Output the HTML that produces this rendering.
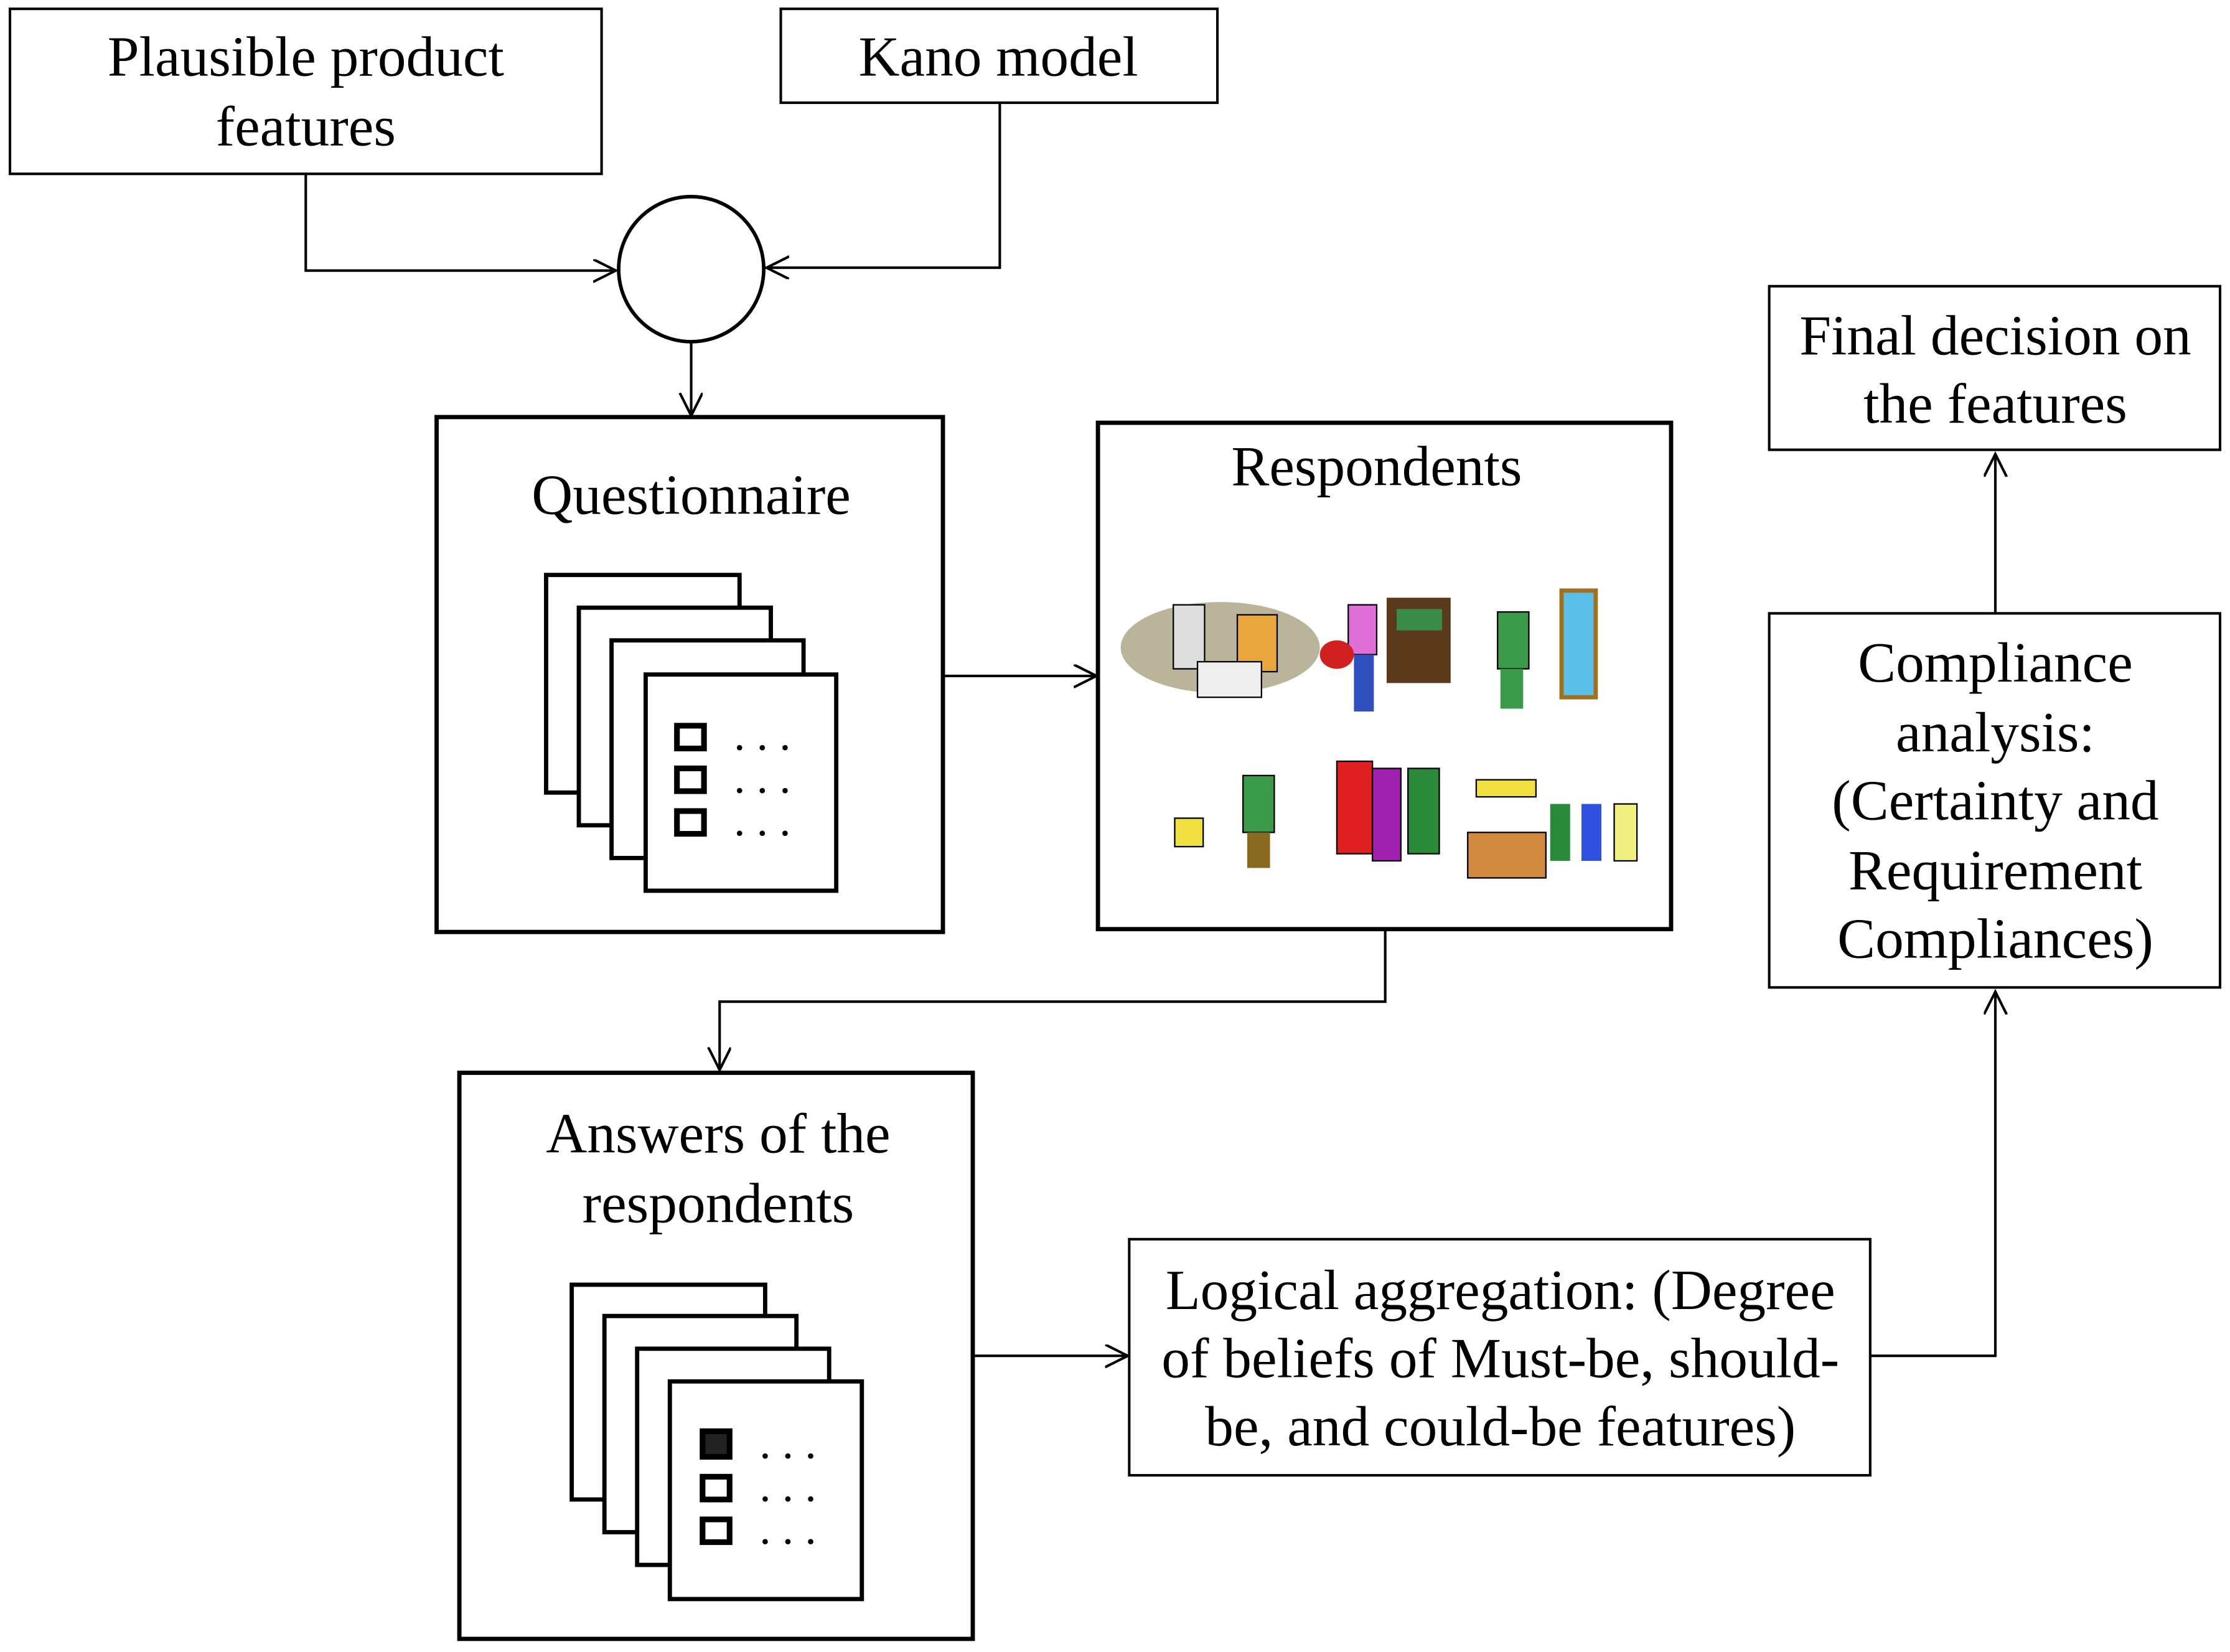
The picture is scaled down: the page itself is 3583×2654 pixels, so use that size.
<!DOCTYPE html>
<html><head><meta charset="utf-8"><style>
html,body{margin:0;padding:0;background:#fff;}
svg{display:block;}
text{font-family:"Liberation Serif",serif;font-size:40px;fill:#000;text-anchor:middle;}
</style></head><body>
<svg width="3583" height="2654" viewBox="0 0 1568 1161" xmlns="http://www.w3.org/2000/svg">
<defs>
<marker id="a" markerWidth="20" markerHeight="20" refX="16" refY="8" orient="auto" markerUnits="userSpaceOnUse">
<path d="M0,0 L16,8 L0,16" fill="none" stroke="#000" stroke-width="1.8"/>
</marker>
</defs>
<g fill="none" stroke="#000" stroke-width="1.8">
<rect x="7" y="6" width="416" height="116"/>
<rect x="549" y="6" width="307" height="66"/>
<circle cx="486" cy="189" r="51" stroke-width="2.5"/>
<polyline points="215,122 215,190 433,190" marker-end="url(#a)"/>
<polyline points="703,72 703,188 539,188" marker-end="url(#a)"/>
<line x1="486" y1="240" x2="486" y2="292" marker-end="url(#a)"/>
<rect x="307" y="293" width="356" height="362" stroke-width="3"/>
<line x1="663" y1="475" x2="771" y2="475" marker-end="url(#a)"/>
<rect x="772" y="297" width="403" height="356" stroke-width="3"/>
<polyline points="974,653 974,704 506,704 506,752" marker-end="url(#a)"/>
<rect x="323" y="754" width="361" height="398" stroke-width="3"/>
<line x1="684" y1="953" x2="793" y2="953" marker-end="url(#a)"/>
<rect x="794" y="871" width="521" height="166"/>
<polyline points="1315,953 1403,953 1403,697" marker-end="url(#a)"/>
<rect x="1244" y="431" width="317" height="263"/>
<line x1="1403" y1="431" x2="1403" y2="319" marker-end="url(#a)"/>
<rect x="1244" y="201" width="317" height="115"/>
</g>
<g fill="#fff" stroke="#000" stroke-width="3">
<rect x="384" y="404" width="136" height="153"/>
<rect x="407" y="427" width="135" height="153"/>
<rect x="430" y="450" width="135" height="153"/>
<rect x="454" y="474" width="134" height="152"/>
<rect x="476" y="510" width="19" height="16" stroke-width="4"/>
<rect x="476" y="540" width="19" height="16" stroke-width="4"/>
<rect x="476" y="570" width="19" height="16" stroke-width="4"/>
<rect x="402" y="903" width="136" height="151"/>
<rect x="425" y="925" width="135" height="152"/>
<rect x="448" y="948" width="135" height="152"/>
<rect x="471" y="971" width="135" height="153"/>
<rect x="494" y="1006" width="19" height="18" stroke-width="4" fill="#222"/>
<rect x="494" y="1038" width="19" height="16" stroke-width="4"/>
<rect x="494" y="1068" width="19" height="16" stroke-width="4"/>
</g>
<g fill="#000">
<text x="536" y="527" style="font-size:32px">. . .</text>
<text x="536" y="557" style="font-size:32px">. . .</text>
<text x="536" y="587" style="font-size:32px">. . .</text>
<text x="554" y="1025" style="font-size:32px">. . .</text>
<text x="554" y="1055" style="font-size:32px">. . .</text>
<text x="554" y="1085" style="font-size:32px">. . .</text>
</g>
<g>
<ellipse cx="858" cy="455" rx="70" ry="32" fill="#b9b49a"/>
<rect x="825" y="425" width="22" height="45" fill="#ddd" stroke="#000"/>
<rect x="870" y="432" width="28" height="40" fill="#e8a63c" stroke="#000"/>
<rect x="842" y="465" width="45" height="25" fill="#eee" stroke="#000"/>
<rect x="975" y="420" width="45" height="60" fill="#5a3a1a"/>
<rect x="982" y="428" width="32" height="15" fill="#3a8a4a"/>
<rect x="948" y="425" width="20" height="35" fill="#e070d8" stroke="#000"/>
<rect x="952" y="460" width="14" height="40" fill="#3050c0"/>
<ellipse cx="940" cy="460" rx="12" ry="10" fill="#d02020"/>
<rect x="1053" y="430" width="22" height="40" fill="#3a9a4a" stroke="#000"/>
<rect x="1055" y="470" width="16" height="28" fill="#3a9a4a"/>
<rect x="1098" y="415" width="24" height="75" fill="#5bc0e8" stroke="#a07020" stroke-width="3"/>
<rect x="826" y="575" width="20" height="20" fill="#f0e040" stroke="#000"/>
<rect x="874" y="545" width="22" height="40" fill="#3a9a4a" stroke="#000"/>
<rect x="877" y="585" width="16" height="25" fill="#8a6a20"/>
<rect x="940" y="535" width="25" height="65" fill="#e02020" stroke="#000"/>
<rect x="965" y="540" width="20" height="65" fill="#a020b0" stroke="#000"/>
<rect x="990" y="540" width="22" height="60" fill="#2a8a3a" stroke="#000"/>
<rect x="1038" y="548" width="42" height="12" fill="#f0e040" stroke="#000"/>
<rect x="1032" y="585" width="55" height="32" fill="#d08a40" stroke="#000"/>
<rect x="1090" y="565" width="14" height="40" fill="#2a8a3a"/>
<rect x="1112" y="565" width="14" height="40" fill="#3050e0"/>
<rect x="1135" y="565" width="16" height="40" fill="#f0f080" stroke="#000"/>
</g>
<text x="215" y="53">Plausible product</text>
<text x="215" y="102">features</text>
<text x="702" y="53">Kano model</text>
<text x="486" y="361">Questionnaire</text>
<text x="968" y="341">Respondents</text>
<text x="505" y="810">Answers of the</text>
<text x="505" y="859">respondents</text>
<text x="1055" y="920">Logical aggregation: (Degree</text>
<text x="1055" y="968">of beliefs of Must-be, should-</text>
<text x="1055" y="1016">be, and could-be features)</text>
<text x="1403" y="479">Compliance</text>
<text x="1403" y="528">analysis:</text>
<text x="1403" y="576">(Certainty and</text>
<text x="1403" y="625">Requirement</text>
<text x="1403" y="673">Compliances)</text>
<text x="1403" y="249">Final decision on</text>
<text x="1403" y="297">the features</text>
</svg>
</body></html>
